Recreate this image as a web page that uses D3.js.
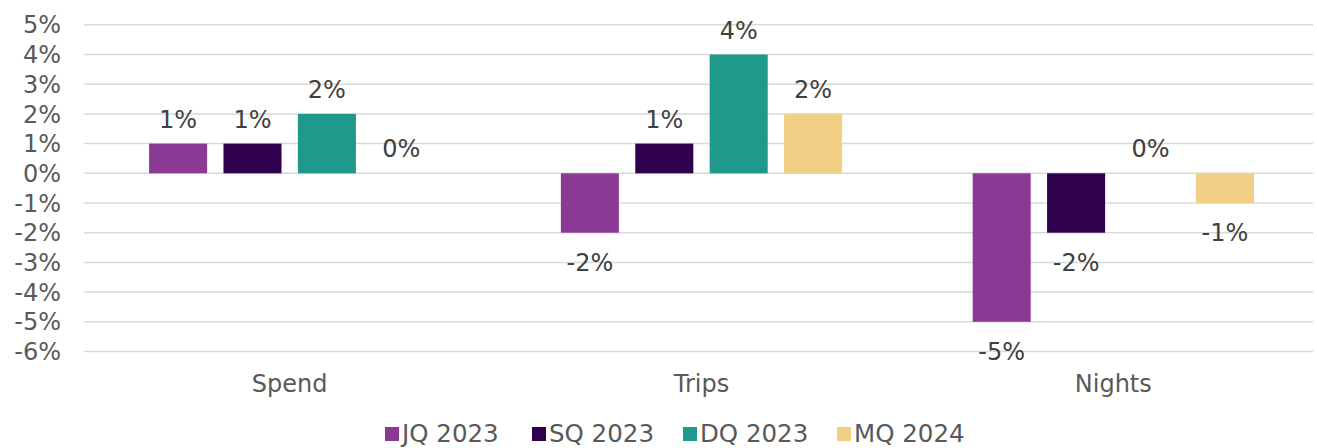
<!DOCTYPE html>
<html lang="en">
<head>
<meta charset="utf-8">
<script src="https://d3js.org/d3.v7.min.js"></script>
<style>
  body { margin: 0; background: #fff; }
  text { font-family: "DejaVu Sans", Verdana, sans-serif; }
</style>
</head>
<body>
<script>
// chart data
var categories = ["Spend", "Trips", "Nights"];
var seriesNames = ["JQ 2023", "SQ 2023", "DQ 2023", "MQ 2024"];
var jq2023 = [1, -2, -5];
var sq2023 = [1, 1, -2];
var dq2023 = [2, 4, 0];
var mq2024 = [0, 2, -1];
var yTicks = [5, 4, 3, 2, 1, 0, -1, -2, -3, -4, -5, -6];

var colors = ["#8A3A94", "#2F004E", "#1E998A", "#F1D085"];
var allSeries = [jq2023, sq2023, dq2023, mq2024];

var width = 1317, height = 448;
var gridLeft = 84, gridRight = 1313;
var fs = 24;

var svg = d3.select("body").append("svg")
    .attr("width", width)
    .attr("height", height);

var y = d3.scaleLinear()
    .domain([-6, 5])
    .range([351.5, 24.8]);

var x0 = d3.scaleBand()
    .domain(categories)
    .range([84, 1319])
    .paddingInner(0.317)
    .paddingOuter(0.158);

var x1 = d3.scaleBand()
    .domain(seriesNames)
    .range([0, x0.bandwidth()])
    .paddingInner(0.22);

// gridlines
svg.append("g")
    .selectAll("line")
    .data(yTicks)
    .enter().append("line")
    .attr("x1", gridLeft)
    .attr("x2", gridRight)
    .attr("y1", function(d) { return y(d); })
    .attr("y2", function(d) { return y(d); })
    .attr("stroke", "#D9D9D9")
    .attr("stroke-width", 1.5);

// y axis labels
svg.append("g")
    .selectAll("text")
    .data(yTicks)
    .enter().append("text")
    .attr("x", 61)
    .attr("y", function(d) { return y(d); })
    .attr("dy", "0.36em")
    .attr("text-anchor", "end")
    .attr("font-size", fs)
    .attr("fill", "#595959")
    .text(function(d) { return d + "%"; });

// bars
var rows = [];
categories.forEach(function(c, i) {
    seriesNames.forEach(function(s, j) {
        rows.push({cat: c, series: s, value: allSeries[j][i], color: colors[j]});
    });
});

var bars = svg.append("g")
    .selectAll("g")
    .data(rows)
    .enter().append("g")
    .attr("transform", function(d) {
        return "translate(" + (x0(d.cat) + x1(d.series)) + ",0)";
    });

bars.append("rect")
    .attr("x", 0)
    .attr("width", x1.bandwidth())
    .attr("y", function(d) { return y(Math.max(0, d.value)); })
    .attr("height", function(d) { return Math.abs(y(d.value) - y(0)); })
    .attr("fill", function(d) { return d.color; });

bars.append("text")
    .attr("x", x1.bandwidth() / 2)
    .attr("y", function(d) {
        return d.value >= 0 ? y(d.value) - 16 : y(d.value) + 38;
    })
    .attr("text-anchor", "middle")
    .attr("font-size", fs)
    .attr("fill", "#404040")
    .text(function(d) { return d.value + "%"; });

// category labels
svg.append("g")
    .selectAll("text")
    .data(categories)
    .enter().append("text")
    .attr("x", function(d) { return x0(d) + x0.bandwidth() / 2; })
    .attr("y", 392)
    .attr("text-anchor", "middle")
    .attr("font-size", fs)
    .attr("fill", "#595959")
    .text(function(d) { return d; });

// legend
var legendX = [385, 532, 683, 837];
var legend = svg.append("g")
    .selectAll("g")
    .data(seriesNames)
    .enter().append("g")
    .attr("transform", function(d, i) { return "translate(" + legendX[i] + ",427)"; });

legend.append("rect")
    .attr("width", 14)
    .attr("height", 14)
    .attr("fill", function(d, i) { return colors[i]; });

legend.append("text")
    .attr("x", 17)
    .attr("y", 15)
    .attr("font-size", 24.5)
    .attr("fill", "#595959")
    .text(function(d) { return d; });
</script>
</body>
</html>
